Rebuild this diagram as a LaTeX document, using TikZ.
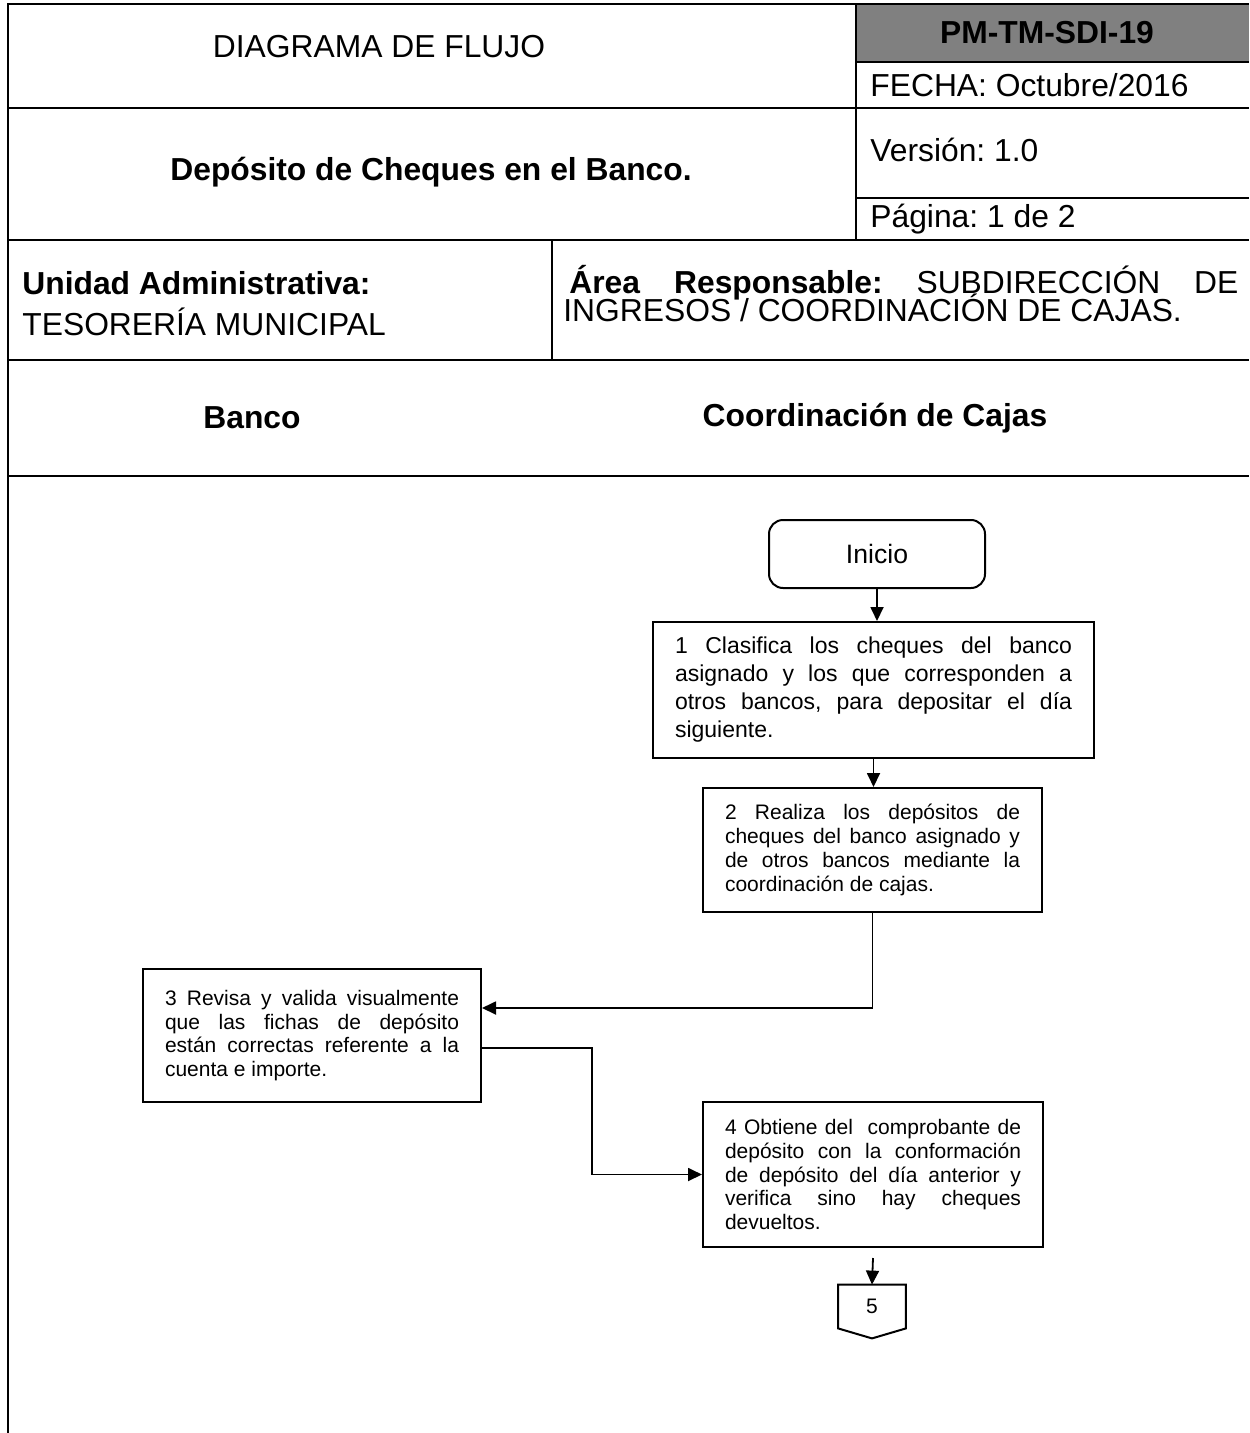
\documentclass[tikz,border=0pt]{standalone}
\usepackage{fontspec}
\setmainfont{Liberation Sans}
\usetikzlibrary{arrows.meta}
\definecolor{celda}{HTML}{808080}
\newcommand{\hdrfont}{\fontsize{15.9}{19}\selectfont}
\newcommand{\pasofont}{\fontsize{10.5}{11.9}\selectfont}
\frenchspacing

\begin{document}
\begin{tikzpicture}[x=0.5pt, y=-0.5pt,
  >={Triangle[length=7pt, width=6.5pt]},
  marco/.style={line width=1.2pt},
  paso/.style={draw, line width=1pt, align=justify, inner xsep=11pt, inner ysep=3pt, font=\pasofont},
  flecha/.style={->, line width=0.9pt}]
  \useasboundingbox (0,0) rectangle (1249,1433);

  % Encabezado
  \fill[celda] (856,4) rectangle (1249,62);
  \draw[marco] (8,1433) -- (8,4) -- (1249,4);
  \draw[marco] (8,108) -- (1249,108);
  \draw[marco] (856,62) -- (1249,62);
  \draw[marco] (856,198) -- (1249,198);
  \draw[marco] (8,240) -- (1249,240);
  \draw[marco] (8,360) -- (1249,360);
  \draw[marco] (8,476) -- (1249,476);
  \draw[marco] (856,4) -- (856,240);
  \draw[marco] (552,240) -- (552,360);

  \node[font=\hdrfont] (titulo) at (379,47) {DIAGRAMA DE FLUJO};
  \node[font=\hdrfont\bfseries] (proc) at (431,172) {Depósito de Cheques en el Banco.};
  \node[font=\hdrfont\bfseries] (clave) at (1047,33) {PM-TM-SDI-19};
  \node[font=\hdrfont, anchor=west, inner sep=0pt] (fecha) at (870,85) {FECHA: Octubre/2016};
  \node[font=\hdrfont, anchor=west, inner sep=0pt] (version) at (870,150) {Versión: 1.0};
  \node[font=\hdrfont, anchor=west, inner sep=0pt] (pagina) at (870,219) {Página: 1 de 2};

  \node[font=\hdrfont\bfseries, anchor=west, inner sep=0pt] (unidad) at (22,283) {Unidad Administrativa:};
  \node[font=\hdrfont, anchor=west, inner sep=0pt] (tesoreria) at (22,322) {TESORERÍA MUNICIPAL};
  \node[font=\hdrfont, anchor=west, inner sep=0pt, text width=337.5pt, align=left] (area) at (563,283)
    {\hspace*{3pt}\textbf{Área}\hfill\textbf{Responsable:}\hfill SUBDIRECCIÓN\hfill DE};
  \node[font=\hdrfont, anchor=west, inner sep=0pt] (area2) at (563,308) {INGRESOS / COORDINACIÓN DE CAJAS.};

  \node[font=\hdrfont\bfseries] (banco) at (252,418) {Banco};
  \node[font=\hdrfont\bfseries] (cajas) at (875,418) {Coordinación de Cajas};

  % Pasos
  \node[draw, line width=1pt, rounded corners=7pt, minimum width=108pt, minimum height=34pt,
    font={\fontsize{13.3}{16}\selectfont}] (inicio) at (877,554) {Inicio};
  \node[paso, text width=198.5pt, minimum height=68pt, font={\fontsize{11.5}{14}\selectfont}] (p1) at (873.5,690)
    {1 Clasifica los cheques del banco\linebreak asignado y los que corresponden a\linebreak otros bancos, para depositar el día\linebreak siguiente.};
  \node[paso, text width=147.5pt, minimum height=62pt] (p2) at (872.5,850)
    {2 Realiza los depósitos de\linebreak cheques del banco asignado y\linebreak de otros bancos mediante la\linebreak coordinación de cajas.};
  \node[paso, text width=147pt, minimum height=66.5pt] (p3) at (312,1035.5)
    {3 Revisa y valida visualmente\linebreak que las fichas de depósito\linebreak están correctas referente a la\linebreak cuenta e importe.};
  \node[paso, text width=148pt, minimum height=72.5pt] (p4) at (873,1174.5)
    {4 Obtiene del \ comprobante de\linebreak depósito con la conformación\linebreak de depósito del día anterior y\linebreak verifica sino hay cheques\linebreak devueltos.};
  \node[minimum width=33.5pt, minimum height=21.5pt, inner sep=0pt, font=\pasofont] (c5) at (872,1306.5) {5};
  \draw[line width=1pt] (c5.north west) -- (c5.north east) -- (c5.south east)
    -- ([yshift=-5pt]c5.south) -- (c5.south west) -- cycle;

  % Conectores
  \coordinate (codo) at (592,1100);
  \draw[flecha] (inicio.south) -- (inicio.south |- p1.north);
  \draw[flecha] (p1.south) -- (p1.south |- p2.north);
  \draw[flecha] (p2.south) |- ([yshift=13.75pt]p3.east);
  \draw[flecha] ([yshift=-6.25pt]p3.east) -| (codo) |- (p4.west);
  \draw[flecha] ([yshift=-5pt]p4.south) -- (c5.north);
\end{tikzpicture}
\end{document}
